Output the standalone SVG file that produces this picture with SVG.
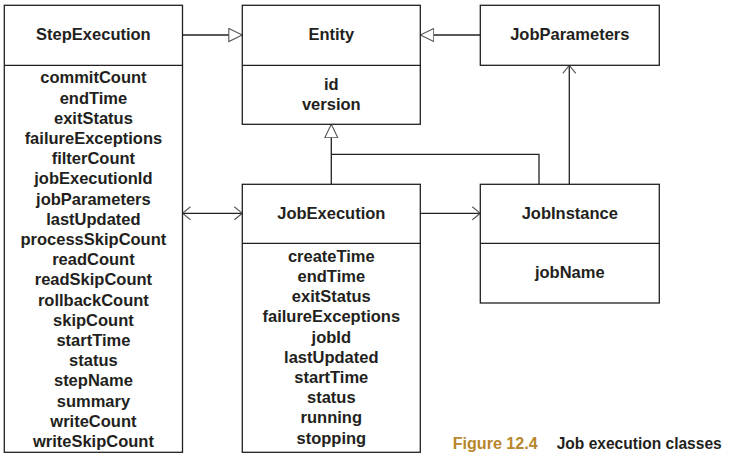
<svg xmlns="http://www.w3.org/2000/svg" width="737" height="466" viewBox="0 0 737 466">
<defs>
<style>
.box{fill:#fff;stroke:#231f20;stroke-width:1.3}
.div{stroke:#231f20;stroke-width:1.3}
.t{font-family:"Liberation Sans",Arial,sans-serif;font-weight:bold;font-size:16.5px;fill:#231f20;text-anchor:middle}
.c{fill:none;stroke:#231f20;stroke-width:1.3}
.cap{font-family:"Liberation Sans",Arial,sans-serif;font-weight:bold;font-size:16px}
</style>
<marker id="tri" markerUnits="userSpaceOnUse" viewBox="0 0 15 15" refX="14" refY="7.5" markerWidth="15" markerHeight="15" orient="auto">
<path d="M0.5,1 L14,7.5 L0.5,14 Z" fill="#fff" stroke="#555" stroke-width="1.1"/>
</marker>
<marker id="open" markerUnits="userSpaceOnUse" viewBox="0 0 10 15" refX="9" refY="7.5" markerWidth="10" markerHeight="15" orient="auto-start-reverse">
<path d="M1,1 L9,7.5 L1,14" fill="none" stroke="#555" stroke-width="1.1"/>
</marker>
</defs>
<rect width="737" height="466" fill="#fff"/>
<g id="connectors">
<line class="c" x1="182.5" y1="35" x2="242.3" y2="35" marker-end="url(#tri)"/>
<line class="c" x1="480.3" y1="35" x2="420.3" y2="35" marker-end="url(#tri)"/>
<line class="c" x1="331.3" y1="184.3" x2="331.3" y2="124.3" marker-end="url(#tri)"/>
<path class="c" d="M539,184.3 V154.3 H331.3"/>
<line class="c" x1="569.3" y1="184.3" x2="569.3" y2="65.3" marker-end="url(#open)"/>
<line class="c" x1="420.3" y1="213.3" x2="480.3" y2="213.3" marker-end="url(#open)"/>
<line class="c" x1="182.5" y1="213.3" x2="242.3" y2="213.3" marker-start="url(#open)" marker-end="url(#open)"/>
</g>
<g id="StepExecution">
<rect class="box" x="4.3" y="5.3" width="178.2" height="447"/>
<line class="div" x1="4.3" y1="65.3" x2="182.5" y2="65.3"/>
<text class="t" x="93.4" y="40">StepExecution</text>
<text class="t" x="93.4" y="83.3">commitCount</text>
<text class="t" x="93.4" y="103.5">endTime</text>
<text class="t" x="93.4" y="123.7">exitStatus</text>
<text class="t" x="93.4" y="143.9">failureExceptions</text>
<text class="t" x="93.4" y="164.1">filterCount</text>
<text class="t" x="93.4" y="184.3">jobExecutionId</text>
<text class="t" x="93.4" y="204.5">jobParameters</text>
<text class="t" x="93.4" y="224.7">lastUpdated</text>
<text class="t" x="93.4" y="244.9">processSkipCount</text>
<text class="t" x="93.4" y="265.1">readCount</text>
<text class="t" x="93.4" y="285.3">readSkipCount</text>
<text class="t" x="93.4" y="305.5">rollbackCount</text>
<text class="t" x="93.4" y="325.7">skipCount</text>
<text class="t" x="93.4" y="345.9">startTime</text>
<text class="t" x="93.4" y="366.1">status</text>
<text class="t" x="93.4" y="386.3">stepName</text>
<text class="t" x="93.4" y="406.5">summary</text>
<text class="t" x="93.4" y="426.7">writeCount</text>
<text class="t" x="93.4" y="446.9">writeSkipCount</text>
</g>
<g id="Entity">
<rect class="box" x="242.3" y="5.3" width="178" height="119"/>
<line class="div" x1="242.3" y1="65.3" x2="420.3" y2="65.3"/>
<text class="t" x="331.3" y="40">Entity</text>
<text class="t" x="331.3" y="90">id</text>
<text class="t" x="331.3" y="110">version</text>
</g>
<g id="JobParameters">
<rect class="box" x="480.3" y="5.3" width="179" height="60"/>
<text class="t" x="569.8" y="40">JobParameters</text>
</g>
<g id="JobExecution">
<rect class="box" x="242.3" y="184.3" width="178" height="268"/>
<line class="div" x1="242.3" y1="243.3" x2="420.3" y2="243.3"/>
<text class="t" x="331.3" y="219">JobExecution</text>
<text class="t" x="331.3" y="261.7">createTime</text>
<text class="t" x="331.3" y="281.9">endTime</text>
<text class="t" x="331.3" y="302.1">exitStatus</text>
<text class="t" x="331.3" y="322.3">failureExceptions</text>
<text class="t" x="331.3" y="342.5">jobId</text>
<text class="t" x="331.3" y="362.7">lastUpdated</text>
<text class="t" x="331.3" y="382.9">startTime</text>
<text class="t" x="331.3" y="403.1">status</text>
<text class="t" x="331.3" y="423.3">running</text>
<text class="t" x="331.3" y="443.5">stopping</text>
</g>
<g id="JobInstance">
<rect class="box" x="480.3" y="184.3" width="179" height="118.7"/>
<line class="div" x1="480.3" y1="243.3" x2="659.3" y2="243.3"/>
<text class="t" x="569.8" y="218.5">JobInstance</text>
<text class="t" x="569.8" y="277.7">jobName</text>
</g>
<g id="caption">
<text class="cap" x="452.7" y="449.3" fill="#b8862b" textLength="85" lengthAdjust="spacingAndGlyphs">Figure 12.4</text>
<text class="cap" x="556.7" y="449.3" fill="#231f20" textLength="165" lengthAdjust="spacingAndGlyphs">Job execution classes</text>
</g>
</svg>
